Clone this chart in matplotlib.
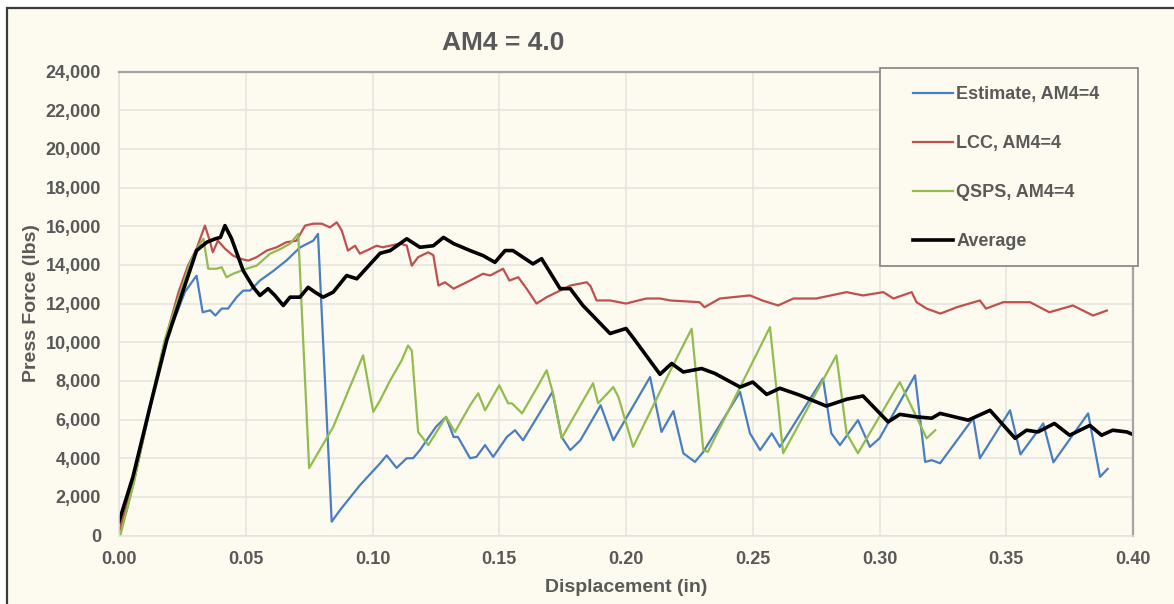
import matplotlib
matplotlib.use("Agg")
import matplotlib.pyplot as plt
from matplotlib.patches import Rectangle
from matplotlib.ticker import FuncFormatter, MultipleLocator

plt.rcParams['font.family'] = ['Liberation Sans', 'DejaVu Sans']
plt.rcParams['font.weight'] = 'bold'

est_x = [0.0, 0.003, 0.006, 0.012, 0.018, 0.0228, 0.026, 0.0287, 0.0306, 0.033, 0.036, 0.038,
         0.0405, 0.043, 0.0464, 0.049, 0.0517, 0.0556, 0.061, 0.066, 0.0714, 0.0766, 0.0785,
         0.0839, 0.0872, 0.095, 0.103, 0.1056, 0.1095, 0.1135, 0.116, 0.1187, 0.125, 0.129,
         0.132, 0.1337, 0.1385, 0.141, 0.1444, 0.1476, 0.153, 0.1562, 0.1594, 0.171, 0.1746,
         0.178, 0.182, 0.190, 0.195, 0.2095, 0.214, 0.2187, 0.2226, 0.2272, 0.2305, 0.245,
         0.2489, 0.2529, 0.2575, 0.2607, 0.2777, 0.281, 0.2844, 0.2915, 0.2962, 0.300, 0.314,
         0.318, 0.3206, 0.3239, 0.337, 0.3396, 0.3515, 0.3556, 0.3646, 0.3686, 0.3823, 0.387,
         0.390]
est_y = [300, 1300, 2900, 6400, 10000, 11500, 12600, 13100, 13440, 11550, 11650, 11380,
         11740, 11740, 12330, 12670, 12670, 13190, 13700, 14220, 14900, 15250, 15600,
         720, 1320, 2600, 3740, 4150, 3500, 4000, 4000, 4420, 5620, 6140,
         5100, 5100, 4000, 4070, 4680, 4070, 5100, 5450, 4930, 7430, 5100,
         4420, 4930, 6740, 4930, 8200, 5360, 6440, 4260, 3810, 4330, 7430,
         5290, 4420, 5290, 4590, 8130, 5290, 4680, 5970, 4590, 5030, 8290,
         3810, 3900, 3740, 6070, 4000, 6480, 4200, 5800, 3790, 6320, 3040,
         3450]

lcc_x = [0.0, 0.006, 0.012, 0.018, 0.0235, 0.0272, 0.0306, 0.0339, 0.036, 0.037, 0.039, 0.0418,
         0.045, 0.0477, 0.051, 0.0543, 0.0583, 0.0622, 0.066, 0.070, 0.0734, 0.0766, 0.080,
         0.0832, 0.0859, 0.0879, 0.0903, 0.0931, 0.095, 0.0977, 0.1016, 0.104, 0.1108, 0.1135,
         0.1155, 0.118, 0.122, 0.124, 0.126, 0.1286, 0.132, 0.1385, 0.1436, 0.1464, 0.1515,
         0.154, 0.1575, 0.1608, 0.1647, 0.1687, 0.174, 0.178, 0.1845, 0.186, 0.1884, 0.1937,
         0.200, 0.208, 0.2134, 0.2174, 0.229, 0.231, 0.237, 0.2489, 0.254, 0.260, 0.266, 0.275,
         0.287, 0.2935, 0.3015, 0.3055, 0.3127, 0.3146, 0.3186, 0.324, 0.3305, 0.3396, 0.342,
         0.3488, 0.3594, 0.367, 0.3763, 0.3842, 0.3897]
lcc_y = [200, 2900, 6500, 10000, 12600, 13960, 14840, 16030, 15170, 14650, 15250, 14840,
         14480, 14320, 14220, 14400, 14740, 14910, 15170, 15250, 16030, 16130, 16130,
         15940, 16200, 15770, 14740, 14990, 14580, 14740, 14990, 14910, 15100, 15000,
         13960, 14400, 14650, 14500, 12930, 13100, 12770, 13190, 13540, 13450, 13800,
         13190, 13360, 12770, 12000, 12330, 12670, 12930, 13100, 12900, 12160, 12160,
         12000, 12260, 12260, 12160, 12070, 11810, 12260, 12420, 12150, 11900, 12260, 12260,
         12590, 12420, 12590, 12260, 12590, 12070, 11740, 11480, 11810, 12160, 11740,
         12070, 12070, 11550, 11900, 11380, 11640]

qsps_x = [0.0005, 0.006, 0.012, 0.018, 0.024, 0.028, 0.031, 0.0333, 0.0352, 0.0385, 0.0405,
          0.0424, 0.045, 0.0503, 0.0543, 0.0596, 0.064, 0.0675, 0.0707, 0.075, 0.0845, 0.0963,
          0.1003, 0.103, 0.107, 0.1115, 0.114, 0.1155, 0.118, 0.122, 0.129, 0.1325, 0.1385,
          0.1417, 0.1444, 0.150, 0.1535, 0.155, 0.159, 0.165, 0.1687, 0.1712, 0.1746, 0.187,
          0.189, 0.195, 0.197, 0.2028, 0.2170, 0.2259, 0.2305, 0.2323, 0.2568, 0.262, 0.283,
          0.287, 0.2915, 0.308, 0.3186, 0.322]
qsps_y = [0, 2800, 6600, 10100, 12500, 14100, 14900, 15360, 13800, 13800, 13880,
          13360, 13540, 13800, 13960, 14580, 14840, 15100, 15600, 3490, 5620, 9320,
          6400, 7000, 8030, 9060, 9830, 9570, 5360, 4680, 6140, 5360, 6740,
          7360, 6480, 7770, 6840, 6840, 6320, 7680, 8550, 7360, 5040, 7880,
          6840, 7680, 7170, 4590, 8400, 10700, 4420, 4330, 10780, 4260, 9320,
          5290, 4260, 7940, 5030, 5450]

avg_x = [0.0, 0.0055, 0.0122, 0.0188, 0.0253, 0.0306, 0.0346, 0.038, 0.040, 0.0418, 0.0444,
         0.049, 0.053, 0.0556, 0.0588, 0.0615, 0.0648, 0.0675, 0.0714, 0.0746, 0.0773, 0.0805,
         0.0845, 0.0898, 0.0938, 0.103, 0.107, 0.1135, 0.1187, 0.124, 0.128, 0.132, 0.1385,
         0.1436, 0.1483, 0.1523, 0.1554, 0.1633, 0.1667, 0.170, 0.174, 0.178, 0.183, 0.1937,
         0.200, 0.203, 0.2134, 0.218, 0.2226, 0.2298, 0.235, 0.245, 0.250, 0.2555, 0.2607,
         0.2686, 0.279, 0.287, 0.2935, 0.3034, 0.308, 0.3146, 0.3206, 0.3239, 0.335, 0.3436,
         0.3535, 0.358, 0.3625, 0.369, 0.375, 0.383, 0.3876, 0.392, 0.3976, 0.4006]
avg_y = [720, 3040, 6650, 10090, 12670, 14740, 15170, 15350, 15420, 16030, 15360,
         13700, 12840, 12420, 12770, 12420, 11900, 12330, 12330, 12840, 12590, 12330,
         12590, 13450, 13280, 14600, 14740, 15350, 14910, 14990, 15420, 15100, 14740,
         14480, 14130, 14740, 14740, 14050, 14320, 13620, 12770, 12770, 11900, 10450,
         10710, 10200, 8340, 8900, 8460, 8640, 8390, 7680, 7940, 7300, 7620,
         7260, 6700, 7050, 7220, 5880, 6270, 6140, 6070, 6320, 5970, 6480,
         5030, 5450, 5360, 5800, 5190, 5700, 5190, 5450, 5360, 5190]

series = [
    ("Estimate, AM4=4", est_x, est_y, "#4A7EC2", 1.6),
    ("LCC, AM4=4", lcc_x, lcc_y, "#C0504D", 1.6),
    ("QSPS, AM4=4", qsps_x, qsps_y, "#92BC4E", 1.6),
    ("Average", avg_x, avg_y, "#000000", 2.6),
]

W, H = 1174, 604
cream = "#FDFAF0"
text_gray = "#595959"

fig = plt.figure(figsize=(W / 100, H / 100), dpi=100)
fig.patch.set_facecolor("white")
# chart frame (right/bottom edges fall outside the picture)
fig.patches.append(Rectangle((7 / W, -0.1), 1.2, 1 - 8 / H + 0.1, transform=fig.transFigure,
                             facecolor=cream, edgecolor="#3A3A3A", linewidth=1.6, zorder=-5))

ax = fig.add_axes([119 / W, 1 - 535.6 / H, (1133 - 119) / W, (535.6 - 71.5) / H])
ax.set_facecolor(cream)

handles = []
for name, xs, ys, col, lw in series:
    ln, = ax.plot(xs, ys, color=col, linewidth=lw, label=name, solid_joinstyle="round")
    handles.append(ln)

ax.set_xlim(0, 0.40)
ax.set_ylim(0, 24000)
ax.xaxis.set_major_locator(MultipleLocator(0.05))
ax.yaxis.set_major_locator(MultipleLocator(2000))
ax.xaxis.set_major_formatter(FuncFormatter(lambda v, p: f"{v:.2f}"))
ax.yaxis.set_major_formatter(FuncFormatter(lambda v, p: f"{v:,.0f}"))
ax.grid(True, color="#E3E3DE", linewidth=1.1)
ax.set_axisbelow(True)
ax.tick_params(length=0, labelsize=13, labelcolor=text_gray, pad=11)
ax.tick_params(axis="y", pad=13)
for t in ax.get_xticklabels() + ax.get_yticklabels():
    t.set_fontweight("bold")

for side in ("left", "bottom"):
    ax.spines[side].set_color("#E3E3DE")
    ax.spines[side].set_linewidth(1.1)
for side in ("top", "right"):
    ax.spines[side].set_color("#A3A3A3")
    ax.spines[side].set_linewidth(1.6)

ax.set_xlabel("Displacement (in)", fontsize=14, color=text_gray, fontweight="bold", labelpad=8)
ax.set_ylabel("Press Force (lbs)", fontsize=14, color=text_gray, fontweight="bold", labelpad=4)
fig.text(503 / W, 1 - 43 / H, "AM4 = 4.0", fontsize=19, color=text_gray, fontweight="bold",
         ha="center", va="center")

# legend box drawn separately so the padding can match
fig.patches.append(Rectangle((880 / W, 1 - 266 / H), 258 / W, 198 / H, transform=fig.transFigure,
                             facecolor=cream, edgecolor="#8C8C8C", linewidth=1.3, zorder=3))
leg = fig.legend(handles, [s[0] for s in series], loc="upper left",
                 bbox_to_anchor=(913 / W, 1 - 86 / H), frameon=False, borderpad=0,
                 borderaxespad=0, fontsize=13, labelspacing=1.78, handlelength=2.2,
                 handletextpad=0.2, labelcolor=text_gray)
leg.set_zorder(4)
for t in leg.get_texts():
    t.set_fontweight("bold")

fig.savefig("out.png", dpi=100)
